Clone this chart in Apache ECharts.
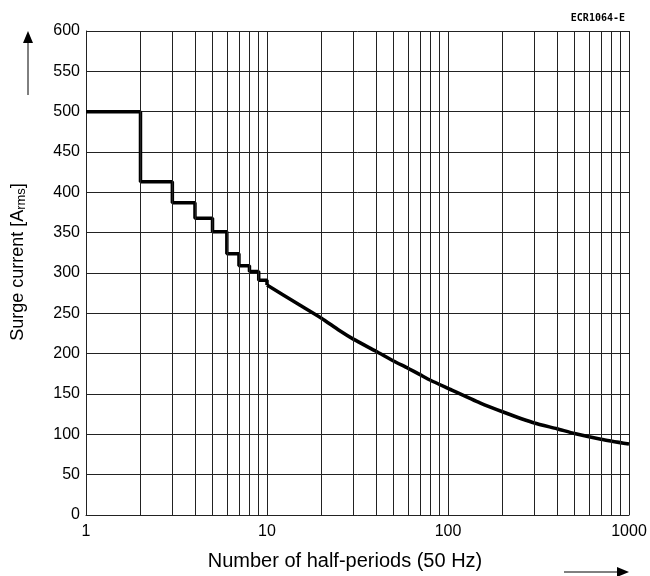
<!DOCTYPE html>
<html>
<head>
<meta charset="utf-8">
<script src="https://cdn.jsdelivr.net/npm/echarts@6/dist/echarts.min.js"></script>
<style>
  html, body { margin: 0; padding: 0; background: #fff; }
  #chart { width: 650px; height: 576px; }
</style>
</head>
<body>
<div id="chart"></div>
<script>
// stepped part (half-periods 1..10)
var stepX = [1, 2, 3, 4, 5, 6, 7, 8, 9, 10]
var stepY = [500, 413, 387, 368, 351, 324, 309, 302, 291, 285]
// smooth part (10..1000)
var curveX = [10, 15, 20, 25, 30, 40, 50, 60, 70, 80, 100, 150, 200, 300, 400, 500, 700, 1000]
var curveY = [285, 261, 244, 229, 218, 203, 191, 182, 174, 167, 157, 139, 128, 114, 107, 101, 94, 88]
// minor grid lines of the log axis
var minorX = [2, 3, 4, 5, 6, 7, 8, 9, 20, 30, 40, 50, 60, 70, 80, 90, 200, 300, 400, 500, 600, 700, 800, 900]

var myChart = echarts.init(document.getElementById('chart'))

var gridCol = '#222'
var font = 'Liberation Sans, Arial, sans-serif'

var option = {
    animation: false,
    backgroundColor: '#fff',
    title: {
        text: 'ECR1064-E',
        right: 20,
        top: 8,
        textStyle: { fontFamily: 'DejaVu Sans Mono', fontSize: 10, fontWeight: 'bold', color: '#000' }
    },
    grid: { left: 86, right: 21, top: 31, bottom: 57 },
    xAxis: {
        type: 'log',
        logBase: 10,
        min: 1,
        max: 1000,
        name: 'Number of half-periods (50 Hz)',
        nameLocation: 'middle',
        nameGap: 36,
        nameTextStyle: { fontFamily: font, fontSize: 20, color: '#000', padding: [0, 25, 0, 0] },
        axisLine: { lineStyle: { color: gridCol, width: 1 } },
        axisTick: { show: false },
        axisLabel: {
            fontFamily: font, fontSize: 16, color: '#000', margin: 9,
            formatter: function (v) { return String(v) }
        },
        splitLine: { show: true, lineStyle: { color: gridCol, width: 1 } }
    },
    yAxis: {
        type: 'value',
        min: 0,
        max: 600,
        interval: 50,
        name: 'Surge current [A{sub|rms}]',
        nameLocation: 'middle',
        nameRotate: 90,
        nameGap: 58,
        nameTextStyle: {
            fontFamily: font, fontSize: 18, color: '#000',
            padding: [0, 0, 0, 22],
            rich: {
                sub: { fontFamily: font, fontSize: 13, color: '#000', verticalAlign: 'bottom', padding: [6, 0, 0, 0] }
            }
        },
        axisLine: { show: true, lineStyle: { color: gridCol, width: 1 } },
        axisTick: { show: false },
        axisLabel: { fontFamily: font, fontSize: 16, color: '#000', margin: 6 },
        splitLine: { show: true, lineStyle: { color: gridCol, width: 1 } }
    },
    series: [
        {
            name: 'minor',
            type: 'line',
            data: [],
            silent: true,
            markLine: {
                silent: true,
                symbol: 'none',
                animation: false,
                label: { show: false },
                lineStyle: { color: gridCol, width: 1, type: 'solid' },
                data: minorX.map(function (v) { return { xAxis: v } })
            }
        },
        {
            name: 'steps',
            type: 'line',
            step: 'end',
            showSymbol: false,
            lineStyle: { color: '#000', width: 3.5 },
            data: stepX.map(function (x, i) { return [x, stepY[i]] })
        },
        {
            name: 'curve',
            type: 'line',
            smooth: 0.2,
            showSymbol: false,
            lineStyle: { color: '#000', width: 3.5 },
            data: curveX.map(function (x, i) { return [x, curveY[i]] })
        }
    ],
    graphic: [
        // arrow beside the y axis name
        { type: 'line', shape: { x1: 28, y1: 42, x2: 28, y2: 95 }, style: { stroke: '#000', lineWidth: 1 } },
        { type: 'polygon', shape: { points: [[28, 31], [23, 43], [33, 43]] }, style: { fill: '#000' } },
        // arrow after the x axis name
        { type: 'line', shape: { x1: 564, y1: 572, x2: 618, y2: 572 }, style: { stroke: '#000', lineWidth: 1 } },
        { type: 'polygon', shape: { points: [[629, 572], [617, 567], [617, 577]] }, style: { fill: '#000' } }
    ]
}

myChart.setOption(option)
</script>
</body>
</html>
